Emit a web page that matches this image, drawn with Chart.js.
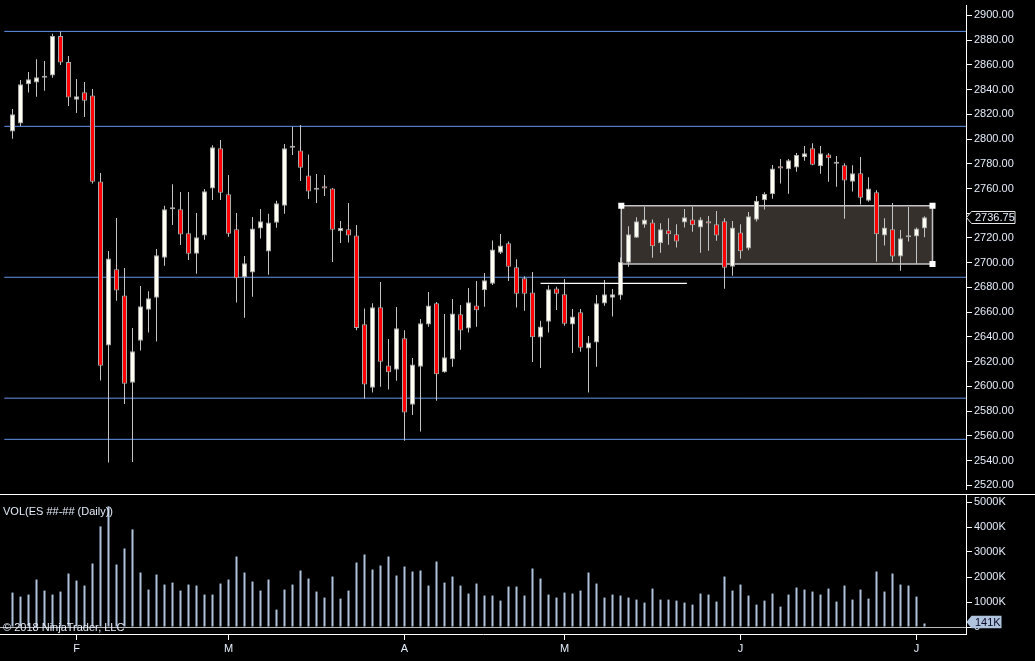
<!DOCTYPE html>
<html><head><meta charset="utf-8">
<script src="https://cdn.jsdelivr.net/npm/chart.js@4"></script>
<style>
html,body{margin:0;padding:0;background:#000;overflow:hidden}
#wrap{position:relative;width:1035px;height:661px;background:#000}
#cp{position:absolute;left:0;top:0}
#cv{position:absolute;left:0;top:494px}
#sep{position:absolute;left:0;top:494px;width:1035px;height:1px;background:#fff}
.txt{position:absolute;font:11px "Liberation Sans",Arial,sans-serif;color:#e4ecfa;white-space:nowrap;line-height:13px}
</style></head><body>
<div id="wrap">
<canvas id="cp" width="1035" height="494"></canvas>
<canvas id="cv" width="1035" height="167"></canvas>
<div id="sep"></div>
<div class="txt" style="left:3px;top:505px">VOL(ES ##-## (Daily))</div>
<div class="txt" style="left:3px;top:621px">© 2018 NinjaTrader, LLC</div>
</div>
<script>
const opens=[2806,2812.5,2844.25,2845.75,2849.5,2851.25,2883.25,2862.25,2831.75,2837.75,2835.25,2765.75,2633,2694.75,2673.5,2603,2637,2662,2671.75,2704,2743.25,2743.25,2723.75,2707.25,2722,2760,2792.5,2755.25,2727,2688.25,2692,2727.75,2709,2732.25,2746,2793,2790.75,2770.5,2759,2761.75,2760,2725.5,2727,2722,2650.25,2599,2664,2617,2613.5,2639,2585.25,2616,2650,2667.25,2611.5,2622,2658.25,2646.75,2665.5,2677.75,2683,2708,2715.75,2696.25,2687.5,2676,2639.5,2652.25,2679.25,2674.5,2650,2660,2630.75,2635.5,2667,2671.75,2673.5,2700,2720.25,2730.75,2732.5,2715.75,2726.25,2723,2732.5,2735,2728.5,2733.5,2731,2733.5,2696.75,2724.5,2711.5,2734.75,2750.5,2755.25,2778,2775.5,2777,2785.25,2792.5,2778,2787.5,2780,2778.75,2765.5,2772.25,2750,2757,2722,2727,2705,2720.5,2721.25,2727.75];
const highs=[2824.25,2847.75,2854.25,2864.5,2863,2885,2887,2867,2848.5,2846,2840.5,2772.5,2709.5,2736.25,2695.75,2647.25,2681.25,2677,2711,2746,2763.5,2757.25,2757.25,2740.25,2759.5,2795,2799.25,2771,2740.25,2705.5,2737,2743.5,2739.5,2750,2796,2810,2811.25,2787.5,2771.75,2771,2760.5,2733.75,2748.25,2730.5,2663,2667.25,2684.5,2638.25,2664.25,2645.5,2623,2654.5,2676.25,2668.25,2658.5,2670.75,2665.75,2679.5,2685.25,2691.75,2718,2723.25,2717.25,2702.75,2689,2692.5,2653,2681.75,2680.5,2686.75,2662.5,2662.5,2640.75,2674,2686,2678.75,2704.25,2729.5,2736.75,2745.25,2735,2732,2736,2731,2743.5,2745.25,2736.75,2737.75,2741.75,2736,2733.75,2731,2741,2754,2757,2779,2783.75,2783.75,2788.75,2794.25,2796.5,2794.25,2788.5,2786.25,2780.5,2778.75,2785.5,2769,2758.5,2736,2748.25,2726.5,2745,2728.5,2737.5];
const lows=[2800.25,2810.5,2837.5,2834.25,2839,2849.5,2859.75,2826.75,2821,2817.75,2764,2604.75,2538.5,2669.25,2585.75,2539,2629,2643.5,2636.25,2697.5,2730.5,2714.25,2702.25,2691,2718.5,2750.75,2750.75,2721,2667.75,2655.5,2672.5,2719.5,2690.25,2728.25,2739.5,2787,2766,2751.5,2748.25,2754,2700.5,2716,2716.25,2645.5,2590,2595,2599.75,2597.5,2604.5,2556,2577,2563.5,2648.25,2588.5,2611,2616,2629.75,2643.5,2648.25,2664.5,2682,2707,2685.25,2663.75,2661.25,2619.75,2615,2643.5,2661.75,2649,2627,2628,2595,2616,2665.25,2656.5,2670,2696.75,2720,2728.25,2704,2708,2714.5,2712.25,2728.5,2725,2708,2709.75,2717.75,2679,2689.5,2703.25,2710,2733.25,2743,2751.75,2764,2755.75,2773.5,2782.5,2778.75,2772,2765.5,2761.5,2735.5,2757.5,2747,2749.25,2700.75,2714,2700.75,2693.5,2717.25,2699.25,2720.5];
const closes=[2820,2844.25,2848.25,2850,2849.75,2883.25,2861.75,2833.5,2834.5,2831,2765.5,2616.75,2703.5,2677.5,2602.25,2628.5,2664.75,2671.25,2706,2743.25,2743.5,2722.75,2707.25,2720.5,2757.75,2793.25,2756.5,2723.5,2687.5,2699.5,2727.75,2733.5,2732.5,2748,2792.5,2793.25,2776.75,2757.5,2759.25,2760,2726.75,2728,2722,2647.25,2601.5,2664,2620,2611.5,2647,2579,2617.75,2651,2665.5,2609.75,2623.5,2659,2645.25,2668,2661.5,2685.75,2710.75,2714,2696.75,2675,2675,2639.75,2648.5,2678.5,2675,2650.75,2656.5,2631.25,2635.5,2667.25,2674.5,2674.5,2700.75,2723,2733.5,2735,2713.25,2727,2723,2717.25,2736.75,2730.25,2735,2731.75,2722,2696,2728.5,2709.25,2737.5,2750,2755.5,2776.25,2776.25,2782.75,2787,2788.5,2779.25,2788.5,2784.5,2780.25,2766.5,2772.25,2752.5,2760,2723,2728.5,2705,2719.75,2722,2727.75,2736.75];
const volumeK=[1377,1217,1297,1899,1457,1297,1417,2139,1858,1658,2540,4024,4827,2500,3142,3904,2179,1497,2099,1698,1778,1457,1698,1658,1297,1297,1738,1899,2821,2179,1818,1457,1899,695,1497,1698,2260,1939,1417,1177,2019,1136,1457,2580,2901,2300,2460,2821,2059,2420,2219,2260,1658,2620,1778,2019,1658,1337,1738,1257,1257,1056,1618,1618,1257,2340,1939,1297,1177,1377,1337,1457,2179,1738,1177,1297,1257,1177,1096,976,1538,1096,1096,1056,976,896,1337,1297,1016,2019,1457,1698,1257,896,1056,1337,816,1297,1578,1497,1417,1297,1538,1016,1658,1096,1497,1136,2219,1417,2139,1698,1658,1217,141];
const levels=[2887,2810.25,2688.25,2590.5,2557.25];
const zoneX=[76.1,115];
const zoneY=[2699,2746];
const pivotX=[66,84.3];
const pivotY=2683.25;
const priceTicks=[2520,2540,2560,2580,2600,2620,2640,2660,2680,2700,2720,2740,2760,2780,2800,2820,2840,2860,2880,2900];
const volTicks=[0,1000,2000,3000,4000,5000];
const monthIdx=[8,27,49,69,91,113];
const monthText=['F','M','A','M','J','J'];

const LINE_FROM=-20, LINE_TO=140;
const TXT='#e4ecfa';
Chart.defaults.font.family='"Liberation Sans", Arial, sans-serif';
Chart.defaults.font.size=11;
const idx=opens.map((_,i)=>i);
const lastClose=closes[closes.length-1];

function xScale(show){
  return {type:'linear',min:-1.5625,max:119.1875,display:show,offset:false,
    afterBuildTicks:s=>{s.ticks=monthIdx.map(v=>({value:v}));},
    afterFit:s=>{ if(show){s.height=27;} s.paddingLeft=0;s.paddingRight=0;},
    grid:{display:true,offset:false,drawOnChartArea:false,drawTicks:true,tickLength:6,color:'#fff',tickColor:'#fff'},
    border:{display:true,color:'#fff',width:1},
    ticks:{color:TXT,padding:2,autoSkip:false,maxRotation:0,callback:v=>{const k=monthIdx.indexOf(v);return k>=0?monthText[k]:'';}}
  };
}
function arrowBox(ctx,x,y,w,h,fill,stroke){
  ctx.beginPath();
  ctx.moveTo(x,y);ctx.lineTo(x+5,y-h/2);ctx.lineTo(x+w,y-h/2);ctx.lineTo(x+w,y+h/2);ctx.lineTo(x+5,y+h/2);ctx.closePath();
  ctx.fillStyle=fill;ctx.fill();
  if(stroke){ctx.strokeStyle=stroke;ctx.lineWidth=1;ctx.stroke();}
}
const priceLabel={id:'priceLabel',afterDraw(chart){
  const s=chart.scales.y,ctx=chart.ctx;
  const y=Math.round(s.getPixelForValue(lastClose))+0.5;
  ctx.save();arrowBox(ctx,s.left+0.5,y,48.5,12,'#000','#e8e8e8');
  ctx.fillStyle=TXT;ctx.font='11px "Liberation Sans", Arial';ctx.textBaseline='middle';ctx.textAlign='left';
  ctx.fillText(lastClose.toFixed(2),s.left+9,y+0.5);ctx.restore();
}};
const volLabel={id:'volLabel',afterDraw(chart){
  const s=chart.scales.y,ctx=chart.ctx,v=volumeK[volumeK.length-1];
  const y=Math.round(s.getPixelForValue(0))-5;
  ctx.save();arrowBox(ctx,s.left+0.5,y,35,12.6,'#b0c4de',null);
  ctx.fillStyle='#0a0a28';ctx.font='11px "Liberation Sans", Arial';ctx.textBaseline='middle';ctx.textAlign='left';
  ctx.fillText(v+'K',s.left+9,y+0.5);ctx.restore();
}};

function calibrate(chart,axis,p1,v1,p2,v2){
  const a=chart.chartArea,o=chart.options.scales[axis],k=(v2-v1)/(p2-p1);
  if(axis==='x'){o.min=v1+(a.left-p1)*k;o.max=v1+(a.right-p1)*k;}
  else{o.min=v1+(a.bottom-p1)*k;o.max=v1+(a.top-p1)*k;}
}

const priceChart=new Chart(document.getElementById('cp'),{
  type:'bar',
  data:{datasets:[
    {type:'line',data:[{x:zoneX[0],y:zoneY[0]},{x:zoneX[1],y:zoneY[0]},{x:zoneX[1],y:zoneY[1]},{x:zoneX[0],y:zoneY[1]},{x:zoneX[0],y:zoneY[0]}],
      fill:'shape',backgroundColor:'#35302b',borderColor:'#c4c4c8',borderWidth:1.5,pointRadius:0,tension:0,order:10},
    ...levels.map(v=>({type:'line',data:[{x:LINE_FROM,y:v},{x:LINE_TO,y:v}],borderColor:'#6495ed',borderWidth:1,pointRadius:0,order:9})),
    {type:'bar',data:idx.map(i=>({x:i,y:[lows[i],highs[i]]})),backgroundColor:'#c4c4c4',barThickness:1,grouped:false,inflateAmount:0,borderWidth:0,order:5},
    {type:'bar',data:idx.map(i=>({x:i,y:[opens[i],closes[i]]})),backgroundColor:idx.map(i=>closes[i]>=opens[i]?'#fffff4':'#ff0000'),
      borderColor:'#a8a8a8',borderWidth:1,borderSkipped:false,barThickness:5,minBarLength:2,grouped:false,inflateAmount:0,order:4},
    {type:'line',data:[{x:pivotX[0],y:pivotY},{x:pivotX[1],y:pivotY}],borderColor:'#ffffff',borderWidth:1.2,pointRadius:0,order:3},
    {type:'scatter',data:[{x:zoneX[0],y:zoneY[1]},{x:zoneX[1],y:zoneY[1]},{x:zoneX[1],y:zoneY[0]}],pointStyle:'rect',pointRadius:4.3,backgroundColor:'#ffffff',borderWidth:0,order:2}
  ]},
  options:{responsive:false,animation:false,devicePixelRatio:1,events:[],
    layout:{padding:{top:5,left:0,right:0,bottom:0}},
    plugins:{legend:{display:false},tooltip:{enabled:false}},
    scales:{
      x:xScale(false),
      y:{type:'linear',position:'right',min:2513,max:2908.33,
        afterBuildTicks:s=>{s.ticks=priceTicks.map(v=>({value:v}));},
        afterFit:s=>{s.width=69;s.paddingTop=0;s.paddingBottom=0;},
        grid:{drawOnChartArea:false,drawTicks:true,tickLength:6,color:'#fff',tickColor:'#fff'},
        border:{display:true,color:'#fff',width:1},
        ticks:{color:TXT,padding:2,callback:v=>Math.abs(v-lastClose)<8?'':Number(v).toFixed(2)}}
    }
  },
  plugins:[priceLabel]
});
calibrate(priceChart,'y',15.3,2900,485.4,2520);
calibrate(priceChart,'x',12.5,0,924.5,114);
priceChart.update('none');

const volChart=new Chart(document.getElementById('cv'),{
  type:'bar',
  data:{datasets:[
    {type:'bar',data:idx.map(i=>({x:i,y:volumeK[i]})),backgroundColor:'#b0c4de',barThickness:2,grouped:false,inflateAmount:0,borderWidth:0}
  ]},
  options:{responsive:false,animation:false,devicePixelRatio:1,events:[],
    layout:{padding:0},
    plugins:{legend:{display:false},tooltip:{enabled:false}},
    scales:{
      x:xScale(true),
      y:{type:'linear',position:'right',min:-280,max:5320,
        afterBuildTicks:s=>{s.ticks=volTicks.map(v=>({value:v}));},
        afterFit:s=>{s.width=69;s.paddingTop=0;s.paddingBottom=0;},
        grid:{drawOnChartArea:true,drawTicks:true,tickLength:6,color:c=>(c.tick&&c.tick.value===0)?'#b8b8b8':'rgba(0,0,0,0)',tickColor:'#fff'},
        border:{display:true,color:'#fff',width:1},
        ticks:{color:TXT,padding:2,callback:v=>v===0?'0':v+'K'}}
    }
  },
  plugins:[volLabel]
});
calibrate(volChart,'y',133,0,8,5000);
calibrate(volChart,'x',12.5,0,924.5,114);
volChart.update('none');
</script>
</body></html>
